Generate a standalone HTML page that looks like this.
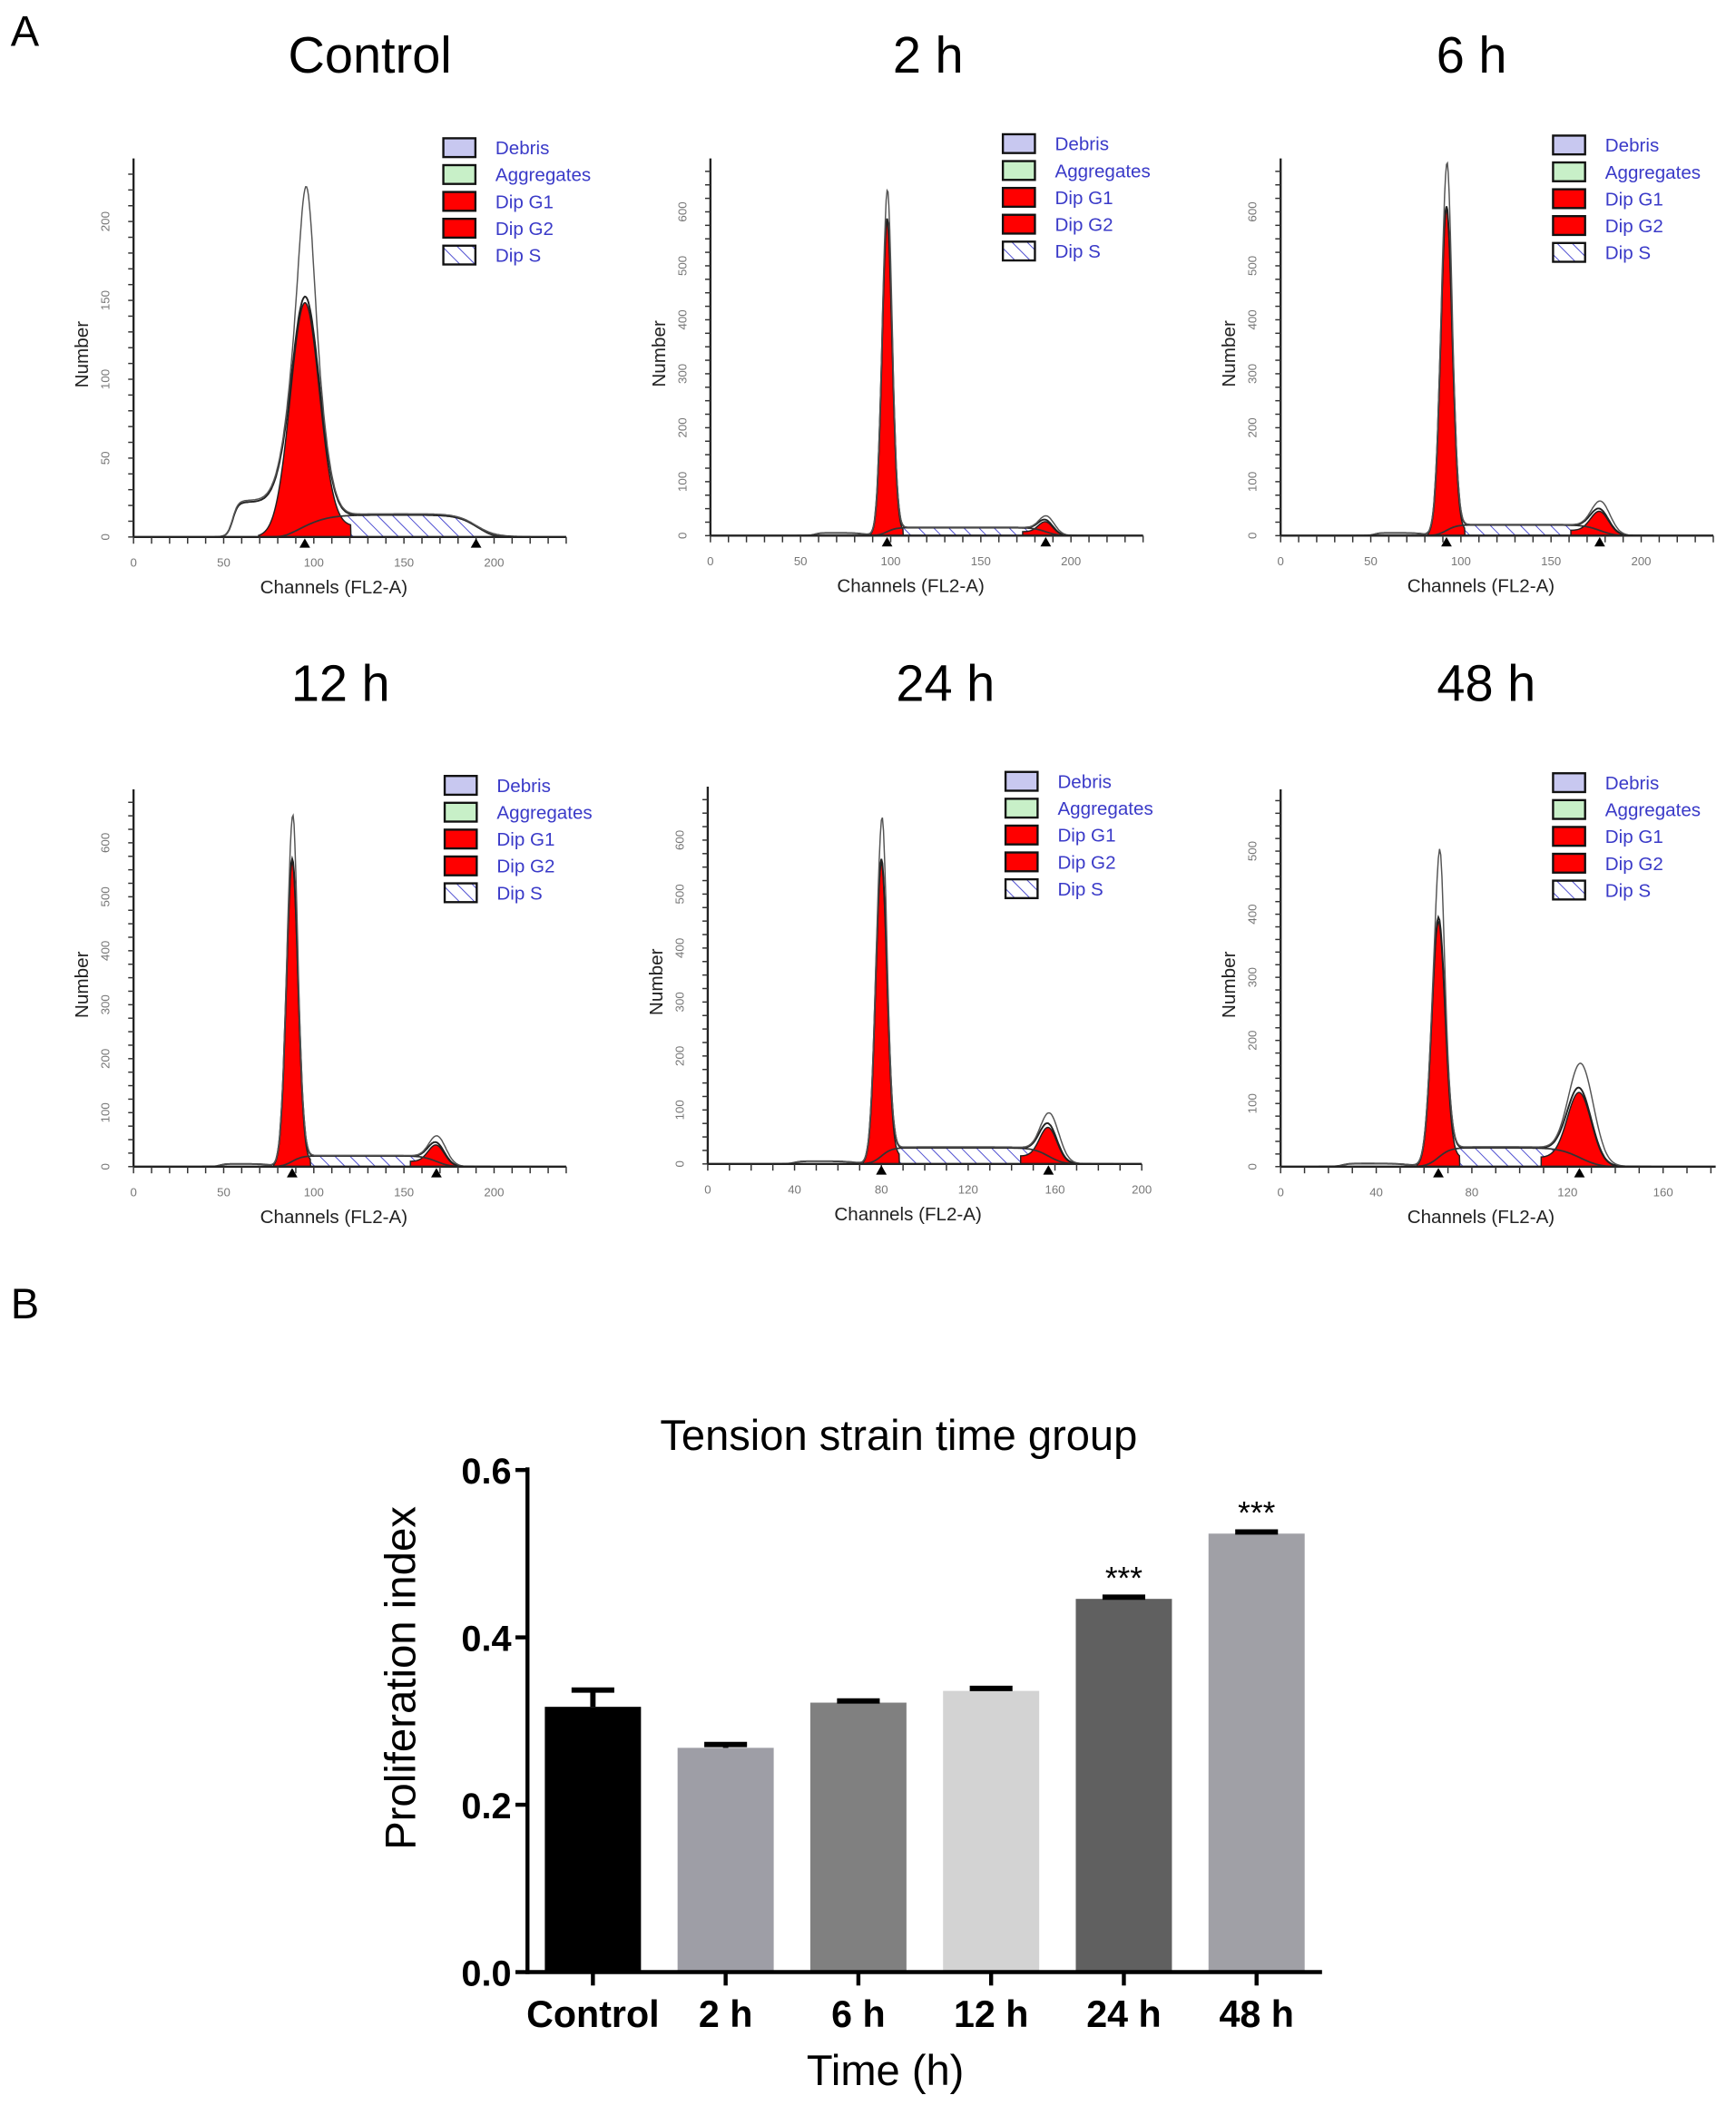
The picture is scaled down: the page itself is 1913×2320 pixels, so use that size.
<!DOCTYPE html>
<html><head><meta charset="utf-8"><style>
html,body{margin:0;padding:0;background:#fff}
svg{display:block}
text{font-family:"Liberation Sans",Arial,sans-serif}
</style></head><body>
<svg id="fig" xmlns="http://www.w3.org/2000/svg" width="1913" height="2320" viewBox="0 0 1300 1568" preserveAspectRatio="none">
<defs>
<pattern id="hatch" patternUnits="userSpaceOnUse" width="8" height="8" patternTransform="rotate(-45)">
<rect width="8" height="8" fill="#fff"/><line x1="0" y1="0" x2="0" y2="8" stroke="#4a4ad0" stroke-width="1.3"/>
</pattern>
</defs>
<text x="8" y="34" font-size="32">A</text>
<text x="8" y="982" font-size="32">B</text>
<g id="hist"></g>
<g id="bars"></g>
</svg>
<script>
// ---------- Histogram panel data ----------
const panelTitles = ["Control","2 h","6 h","12 h","24 h","48 h"];
const g1Pos = [95, 98, 92, 88, 80, 66];
const g1Height = [145, 580, 600, 560, 550, 380];
const g1Width = [8, 2.8, 3.2, 3.2, 2.6, 2.8];
const g1RawPeak = [215, 640, 690, 650, 640, 500];
const g2Pos = [190, 186, 177, 168, 157, 125];
const g2Height = [0, 22, 40, 35, 60, 110];
const g2Width = [6, 4, 5, 4.5, 4, 5];
const sLevel = [14, 15, 20, 20, 30, 30];
const debrisLevel = [22, 5, 5, 5, 5, 5];
const xTicks = [[0,50,100,150,200],[0,50,100,150,200],[0,50,100,150,200],[0,50,100,150,200],[0,40,80,120,160,200],[0,40,80,120,160]];
const yTicks = [[0,50,100,150,200],[0,100,200,300,400,500,600],[0,100,200,300,400,500,600],[0,100,200,300,400,500,600],[0,100,200,300,400,500,600],[0,100,200,300,400,500]];

// layout (not data)
const L = [
 {ox:100,oy:400,sx:1.35,sy:1.175,xmax:240,ytop:118,xMinor:10,yMinor:10,tx:277,ty:42,lx:332,ly:103},
 {ox:532,oy:399,sx:1.35,sy:0.402,xmax:240,ytop:118,xMinor:10,yMinor:25,tx:695,ty:42,lx:751,ly:100},
 {ox:959,oy:399,sx:1.35,sy:0.402,xmax:240,ytop:118,xMinor:10,yMinor:25,tx:1102,ty:42,lx:1163,ly:101},
 {ox:100,oy:869,sx:1.35,sy:0.402,xmax:240,ytop:588,xMinor:10,yMinor:25,tx:255,ty:510,lx:333,ly:578},
 {ox:530,oy:867,sx:1.625,sy:0.402,xmax:200,ytop:586,xMinor:10,yMinor:25,tx:708,ty:510,lx:753,ly:575},
 {ox:959,oy:869,sx:1.79,sy:0.47,xmax:182,ytop:588,xMinor:10,yMinor:20,tx:1113,ty:510,lx:1163,ly:576}
];
const NS="http://www.w3.org/2000/svg";
function mk(tag,attrs,parent){const e=document.createElementNS(NS,tag);for(const k in attrs)e.setAttribute(k,attrs[k]);parent.appendChild(e);return e;}
const H=document.getElementById('hist');
const legendNames=["Debris","Aggregates","Dip G1","Dip G2","Dip S"];
const legendFill=["#c8c8f0","#c8f0c8","#f00","#f00","url(#hatch)"];
function gauss(c,m,h,w){return h*Math.exp(-(c-m)*(c-m)/(2*w*w));}
function sig(x){return 1/(1+Math.exp(-x));}
for(let i=0;i<6;i++){
 const p=L[i];
 const g=mk('g',{},H);
 
 
 const X=c=>p.ox+c*p.sx, Y=v=>p.oy-v*p.sy;
 const t=mk('text',{x:p.tx,y:p.ty+12,'font-size':38,'text-anchor':'middle'},g);t.textContent=panelTitles[i];
 
 
 const s=c=>sLevel[i]*sig((c-g1Pos[i])/(g1Width[i]*0.9))*sig((g2Pos[i]-c)/(g2Width[i]*0.9));
 const d=c=>debrisLevel[i]*sig((c-(g1Pos[i]-40))/1.5)*sig((g1Pos[i]-12-c)/3);
 const g1=c=>gauss(c,g1Pos[i],g1Height[i],g1Width[i]);
 const g2=c=>gauss(c,g2Pos[i],g2Height[i],g2Width[i]);
 const step=0.5;
 let ps=`M${X(g1Pos[i])},${Y(0)}`;
 for(let c=g1Pos[i];c<=g2Pos[i];c+=step)ps+=`L${X(c)},${Y(s(c))}`;
 ps+=`L${X(g2Pos[i])},${Y(0)}Z`;
 const sp=mk('path',{d:ps,fill:'url(#hatch)',stroke:'none'},g);
 
 
 [[g1,g1Pos[i],g1Width[i],g1Height[i]],[g2,g2Pos[i],g2Width[i],g2Height[i]]].forEach((q,k)=>{
  const f=q[0],m=q[1],w=q[2];
  if(q[3]<5)return;
  let pp=`M${X(m-3.2*w)},${Y(0)}`;
  for(let c=m-3.2*w;c<=m+3.2*w;c+=step/2)pp+=`L${X(c)},${Y(f(c)+s(c)*0.5)}`;
  pp+=`L${X(m+3.2*w)},${Y(0)}Z`;
  const rp=mk('path',{d:pp,fill:'#f00',stroke:'#222','stroke-width':1},g);
  
  
 });
 let sl='';
 for(let c=g1Pos[i]-3*g1Width[i];c<=g2Pos[i]+3*g2Width[i];c+=step)sl+=(sl?'L':'M')+X(c)+','+Y(s(c)*sig((c-g1Pos[i]+10)/3)*sig((g2Pos[i]+10-c)/3));
 const sline=mk('path',{d:sl,fill:'none',stroke:'#333','stroke-width':1.2},g);
 
 
 const tot=c=>g1(c)+g2(c)+s(c)+d(c);
 for(let r=0;r<2;r++){
  let tl='';
  for(let c=g1Pos[i]-50;c<=Math.min(p.xmax,g2Pos[i]+30);c+=step){
   let v=tot(c);
   if(r===1){v=v*1.05+gauss(c,g1Pos[i]+1,g1RawPeak[i]-g1Height[i]*1.05,g1Width[i]*0.45)+gauss(c,g2Pos[i]+3,g2Height[i]*0.35,g2Width[i]);}
   tl+=(tl?'L':'M')+X(c).toFixed(1)+','+Y(v).toFixed(1);
  }
  const tp=mk('path',{d:tl,fill:'none',stroke:r?'#555':'#222','stroke-width':r?1:1.3},g);
  
  
 }
 mk('line',{x1:p.ox,y1:p.oy,x2:X(p.xmax),y2:p.oy,stroke:'#222','stroke-width':1.6},g);
 mk('line',{x1:p.ox,y1:p.oy,x2:p.ox,y2:p.ytop,stroke:'#222','stroke-width':1.6},g);
 for(let c=0;c<=p.xmax;c+=p.xMinor)mk('line',{x1:X(c),y1:p.oy,x2:X(c),y2:p.oy+5,stroke:'#333','stroke-width':1},g);
 for(let v=0;Y(v)>=p.ytop+2;v+=p.yMinor)mk('line',{x1:p.ox-4,y1:Y(v),x2:p.ox,y2:Y(v),stroke:'#333','stroke-width':1},g);
 xTicks[i].forEach(v=>{const e=mk('text',{x:X(v),y:p.oy+22,'font-size':9,fill:'#777','text-anchor':'middle'},g);e.textContent=v;
  
  });
 yTicks[i].forEach(v=>{const e=mk('text',{x:0,y:0,'font-size':9,fill:'#777','text-anchor':'middle',transform:`translate(${p.ox-18},${Y(v)}) rotate(-90)`},g);e.textContent=v;
  
  });
 [g1Pos[i],g2Pos[i]].forEach(m=>mk('path',{d:`M${X(m)-4},${p.oy+8}L${X(m)+4},${p.oy+8}L${X(m)},${p.oy+1}Z`,fill:'#000'},g));
 const xl=mk('text',{x:p.ox+150,y:p.oy+42,'font-size':14,fill:'#222','text-anchor':'middle'},g);xl.textContent='Channels (FL2-A)';
 
 
 const yl=mk('text',{x:0,y:0,'font-size':14,fill:'#222','text-anchor':'middle',transform:`translate(${p.ox-34},${(p.oy+p.ytop)/2+5}) rotate(-90)`},g);yl.textContent='Number';
 
 
 legendNames.forEach((n,k)=>{
  const lg=mk('g',{},g);
  
  
  mk('rect',{x:p.lx,y:p.ly+k*20,width:24,height:14,fill:legendFill[k],stroke:'#111','stroke-width':1.6},lg);
  const e=mk('text',{x:p.lx+39,y:p.ly+k*20+12,'font-size':14,fill:'#3a3ac8'},lg);e.textContent=n;
 });
}

// ---------- Bar chart data ----------
const barCategories = ["Control","2 h","6 h","12 h","24 h","48 h"];
const barValues = [0.317, 0.268, 0.322, 0.336, 0.446, 0.524];
const barErrors = [0.020, 0.004, 0.002, 0.003, 0.002, 0.002];
const barSignif = ["","","","","***","***"];
const yTickValues = [0.0, 0.2, 0.4, 0.6];
const barColors = ["#000000","#9e9ea6","#808080","#d3d3d3","#606060","#a0a0a6"];

const B=document.getElementById('bars');
const y0=1469, yPer=(1469-1095)/0.6, axX=395;
const yS=v=>y0-v*yPer;
const xS=i=>444+i*99.4;
const bw=72;
const ttl=mk('text',{x:673,y:1080,'font-size':32,'text-anchor':'middle'},B);ttl.textContent='Tension strain time group';


barCategories.forEach((c,i)=>{
 const r=mk('rect',{x:xS(i)-bw/2,y:yS(barValues[i]),width:bw,height:y0-yS(barValues[i]),fill:barColors[i]},B);
 
 
 const top=yS(barValues[i]+barErrors[i]);
 const eb=mk('path',{d:`M${xS(i)},${yS(barValues[i])}L${xS(i)},${top}M${xS(i)-16},${top}L${xS(i)+16},${top}`,stroke:'#000','stroke-width':4,fill:'none'},B);
 
 
 if(barSignif[i]){const s=mk('text',{x:xS(i),y:top-6,'font-size':24,'text-anchor':'middle'},B);s.textContent=barSignif[i];
  
  }
 mk('line',{x1:xS(i),y1:y0,x2:xS(i),y2:y0+10,stroke:'#000','stroke-width':3},B);
 const l=mk('text',{x:xS(i),y:1510,'font-size':28,'font-weight':'bold','text-anchor':'middle'},B);l.textContent=c;
 
 
});
mk('line',{x1:axX,y1:y0,x2:990,y2:y0,stroke:'#000','stroke-width':3},B);
mk('line',{x1:axX,y1:y0+1.5,x2:axX,y2:1093,stroke:'#000','stroke-width':3},B);
yTickValues.forEach(v=>{
 mk('line',{x1:axX-9,y1:yS(v),x2:axX,y2:yS(v),stroke:'#000','stroke-width':3},B);
 const t=mk('text',{x:axX-12,y:yS(v)+10,'font-size':27,'font-weight':'bold','text-anchor':'end'},B);t.textContent=v.toFixed(1);
 
 
});
const xt=mk('text',{x:663,y:1553,'font-size':32,'text-anchor':'middle'},B);xt.textContent='Time (h)';


const yt=mk('text',{x:0,y:0,'font-size':32,'text-anchor':'middle',transform:'translate(311,1250) rotate(-90)'},B);yt.textContent='Proliferation index';


</script>
</body></html>
